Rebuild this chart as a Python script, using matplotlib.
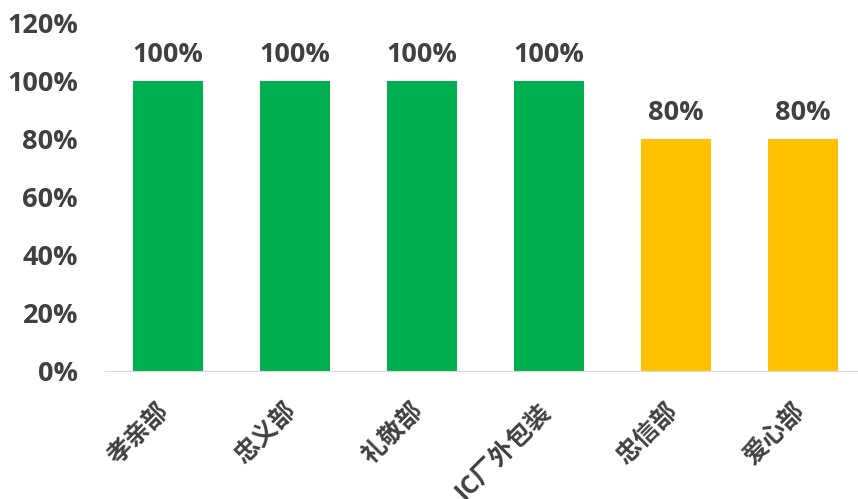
import matplotlib.pyplot as plt
import matplotlib.transforms as mtrans
from matplotlib.ticker import FuncFormatter

plt.rcParams['font.family'] = ['Open Sans', 'Noto Sans CJK SC', 'DejaVu Sans']

depts = ['孝亲部', '忠义部', '礼敬部', 'IC厂外包装', '忠信部', '爱心部']
rates = [1.0, 1.0, 1.0, 1.0, 0.8, 0.8]
colors = ['#00B050', '#00B050', '#00B050', '#00B050', '#FFC000', '#FFC000']
txt = '#404040'

fig = plt.figure(figsize=(8.58, 4.99), dpi=100)
ax = fig.add_axes([0.1218, 0.2565, 0.8782, 0.6975])

x = list(range(len(depts)))
bars = ax.bar(x, rates, width=0.55, color=colors)
for b, v in zip(bars, rates):
    ax.text(b.get_x() + b.get_width() / 2, v + 0.045, f'{v:.0%}', ha='center', va='bottom',
            fontsize=19.5, fontweight='bold', color=txt)

ax.set_xlim(-0.5, 5.433)
ax.set_ylim(0, 1.2)
ax.set_yticks([0, 0.2, 0.4, 0.6, 0.8, 1.0, 1.2])
ax.yaxis.set_major_formatter(FuncFormatter(lambda v, p: f'{v:.0%}'))
ax.set_xticks(x)
ax.set_xticklabels(depts, rotation=45, ha='right', rotation_mode='anchor')

for s in ['top', 'right', 'left']:
    ax.spines[s].set_visible(False)
ax.spines['bottom'].set_color('#D9D9D9')
ax.tick_params(axis='both', length=0)
ax.tick_params(axis='y', pad=19)
ax.tick_params(axis='x', pad=12)

for lab in ax.get_yticklabels():
    lab.set_fontsize(19.5)
    lab.set_fontweight('bold')
    lab.set_color(txt)
for lab in ax.get_xticklabels():
    lab.set_fontsize(18)
    lab.set_fontweight('bold')
    lab.set_color(txt)

# nudge the slanted labels (after tick_params, which resets transforms)
shift = mtrans.ScaledTranslation(-11 / 100, -11 / 100, fig.dpi_scale_trans)
for lab in ax.get_xticklabels():
    lab.set_transform(lab.get_transform() + shift)

fig.savefig('out.png', dpi=100)
